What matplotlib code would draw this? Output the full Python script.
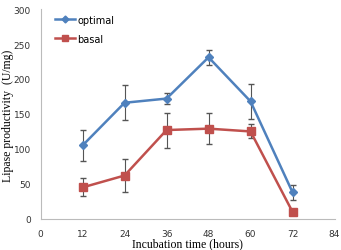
import matplotlib.pyplot as plt
from matplotlib.lines import Line2D

hours = [12, 24, 36, 48, 60, 72]
optimal = [105, 166, 172, 231, 168, 38]
optimal_err = [22, 25, 8, 11, 25, 11]
basal = [45, 62, 127, 129, 125, 10]
basal_err = [13, 23, 25, 22, 10, 3]

BLUE = '#4F81BD'
RED = '#C0504D'

fig = plt.figure(figsize=(3.41, 2.51), dpi=100)
ax = fig.add_axes([0.119, 0.124, 0.862, 0.836])

ax.errorbar(hours, optimal, yerr=optimal_err, color=BLUE, marker='D', markersize=4,
            linewidth=1.8, ecolor='#555555', elinewidth=0.8, capsize=2)
ax.errorbar(hours, basal, yerr=basal_err, color=RED, marker='s', markersize=6,
            linewidth=1.8, ecolor='#555555', elinewidth=0.8, capsize=2)

ax.set_xlim(0, 84)
ax.set_ylim(0, 300)
ax.set_xticks(range(0, 85, 12))
ax.set_yticks(range(0, 301, 50))
ax.tick_params(length=0, labelsize=6.5, pad=7, colors='#333333')
for s in ['top', 'right']:
    ax.spines[s].set_visible(False)
for s in ['left', 'bottom']:
    ax.spines[s].set_color('#BBBBBB')
    ax.spines[s].set_linewidth(0.8)

# axis titles placed in figure coords so they sit at the edges like the original
fig.text(0.022, 0.54, 'Lipase productivity  (U/mg)', family='Liberation Serif', fontsize=8.5,
         rotation=90, ha='center', va='center')
fig.text(0.55, 0.003, 'Incubation time (hours)', family='Liberation Serif', fontsize=8.5,
         ha='center', va='bottom')

handles = [Line2D([], [], color=BLUE, marker='D', markersize=3.5, linewidth=1.8),
           Line2D([], [], color=RED, marker='s', markersize=4.5, linewidth=1.8)]
ax.legend(handles, ['optimal', 'basal'], loc='upper left', bbox_to_anchor=(0.03, 1.0),
          frameon=False, fontsize=7, handlelength=2.0, labelspacing=0.9,
          handletextpad=0.3, borderaxespad=0.2)

fig.savefig('out.png', dpi=100)
